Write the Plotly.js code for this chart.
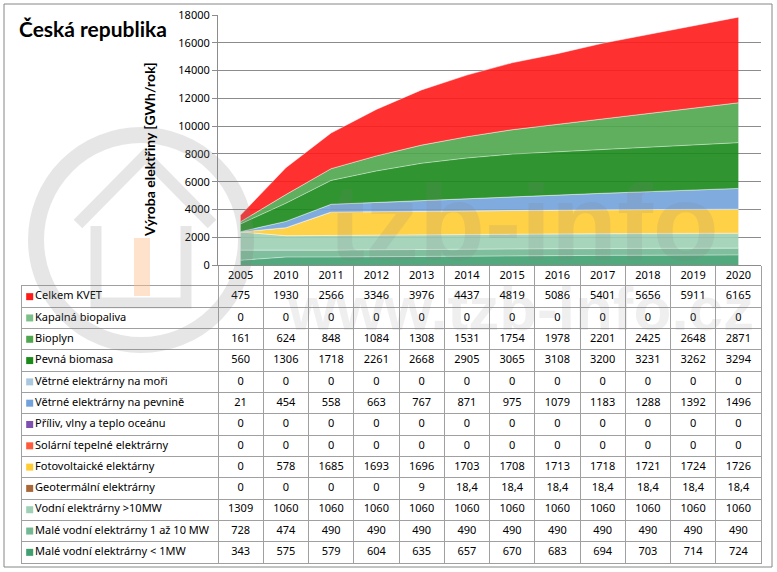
<!DOCTYPE html>
<html>
<head>
<meta charset="utf-8">
<script src="https://cdn.plot.ly/plotly-3.0.1.min.js"></script>
<style>html,body{margin:0;padding:0;background:#fff;}#chart{width:777px;height:572px;}</style>
</head>
<body>
<div id="chart"></div>
<script>
// ---- data ----
const years = ['2005','2010','2011','2012','2013','2014','2015','2016','2017','2018','2019','2020'];
const celkemKVET = [475,1930,2566,3346,3976,4437,4819,5086,5401,5656,5911,6165];
const kapalnaBiopaliva = [0,0,0,0,0,0,0,0,0,0,0,0];
const bioplyn = [161,624,848,1084,1308,1531,1754,1978,2201,2425,2648,2871];
const pevnaBiomasa = [560,1306,1718,2261,2668,2905,3065,3108,3200,3231,3262,3294];
const vetrneMore = [0,0,0,0,0,0,0,0,0,0,0,0];
const vetrnePevnina = [21,454,558,663,767,871,975,1079,1183,1288,1392,1496];
const priliv = [0,0,0,0,0,0,0,0,0,0,0,0];
const solarniTepelne = [0,0,0,0,0,0,0,0,0,0,0,0];
const fotovoltaicke = [0,578,1685,1693,1696,1703,1708,1713,1718,1721,1724,1726];
const geotermalni = [0,0,0,0,9,18.4,18.4,18.4,18.4,18.4,18.4,18.4];
const vodniNad10 = [1309,1060,1060,1060,1060,1060,1060,1060,1060,1060,1060,1060];
const maleVodni1az10 = [728,474,490,490,490,490,490,490,490,490,490,490];
const maleVodniPod1 = [343,575,579,604,635,657,670,683,694,703,714,724];

const seriesNames = ['Celkem KVET','Kapalná biopaliva','Bioplyn','Pevná biomasa','Větrné elektrárny na moři','Větrné elektrárny na pevnině','Příliv, vlny a teplo oceánu','Solární tepelné elektrárny','Fotovoltaické elektárny','Geotermální elektrárny','Vodní elektrárny >10MW','Malé vodní elektrárny 1 až 10 MW','Malé vodní elektrárny < 1MW'];
const seriesValues = [celkemKVET,kapalnaBiopaliva,bioplyn,pevnaBiomasa,vetrneMore,vetrnePevnina,priliv,solarniTepelne,fotovoltaicke,geotermalni,vodniNad10,maleVodni1az10,maleVodniPod1];
const seriesColors = ['#ff1a1a','#7dbf8a','#4ea64e','#1a8a1a','#a9c8de','#72a2dc','#8050b0','#ff5a3c','#ffcc33','#a8683a','#9dd0b5','#72b893','#40a070'];

const W = 777, H = 572;
const px = v => v / W, py = v => 1 - v / H;
const nCol = years.length;
const colIdx = years.map((_, i) => i);
const boundaries = [];
for (let i = 0; i <= nCol; i++) boundaries.push(i - 0.5);
const labelCols = (218 - 22) / ((761 - 218) / nCol);
const fmt = v => String(v).replace('.', ',');
const FONT = 'Noto Sans, DejaVu Sans, sans-serif';

function hexA(h, a) {
  const r = parseInt(h.slice(1,3),16), g = parseInt(h.slice(3,5),16), b = parseInt(h.slice(5,7),16);
  return `rgba(${r},${g},${b},${a})`;
}
const traces = [];
// stacked areas, bottom series first
for (let k = seriesNames.length - 1; k >= 0; k--) {
  const c = seriesColors[k];
  traces.push({
    type: 'scatter', mode: 'lines', x: colIdx, y: seriesValues[k], name: seriesNames[k],
    stackgroup: 'one', fillcolor: hexA(c, 0.9),
    line: {width: 0.8, color: 'rgba(255,255,255,0.55)'},
    hoverinfo: 'skip', xaxis: 'x', yaxis: 'y'
  });
}
// table values
const tx = [], ty = [], tt = [];
seriesValues.forEach((vals, r) => vals.forEach((v, i) => { tx.push(i); ty.push(r); tt.push(fmt(v)); }));
traces.push({
  type: 'scatter', mode: 'text', x: tx, y: ty, text: tt, textposition: 'middle center',
  textfont: {family: FONT, size: 11, color: '#000'}, xaxis: 'x2', yaxis: 'y2', hoverinfo: 'skip', cliponaxis: false
});
// table row labels with swatches
traces.push({
  type: 'scatter', mode: 'markers+text', x: seriesNames.map(() => -0.5 - labelCols + 0.17), y: seriesNames.map((_, r) => r),
  text: seriesNames, textposition: 'middle right',
  marker: {symbol: 'square', size: 7, color: seriesColors},
  textfont: {family: FONT, size: 11, color: '#000'}, xaxis: 'x2', yaxis: 'y2', hoverinfo: 'skip', cliponaxis: false
});

const gray = '#8c8c8c', tgray = '#a0a0a0';
const wm = 'rgba(128,128,128,0.2)';
const layout = {
  width: W, height: H, margin: {l: 0, r: 0, t: 0, b: 0},
  paper_bgcolor: '#fff', plot_bgcolor: 'rgba(0,0,0,0)', showlegend: false,
  font: {family: FONT, size: 11, color: '#000'},
  xaxis: {
    domain: [px(218), px(761)], range: [-0.5, nCol - 0.5], anchor: 'y',
    tickmode: 'array', tickvals: colIdx, ticktext: years, ticks: '',
    showline: true, linecolor: gray, showgrid: false, zeroline: false,
    tickfont: {family: FONT, size: 11}, fixedrange: true,
    minor: {tickmode: 'array', tickvals: boundaries, ticks: 'outside', ticklen: 21, tickcolor: tgray, tickwidth: 1, showgrid: false}
  },
  yaxis: {
    domain: [py(265), py(15)], range: [0, 18000], dtick: 2000, tickformat: 'd', anchor: 'x',
    showgrid: true, gridcolor: gray, ticks: 'outside', ticklen: 5, tickcolor: gray,
    showline: true, linecolor: gray, zeroline: false, tickfont: {family: FONT, size: 11}, fixedrange: true
  },
  xaxis2: {
    domain: [px(22), px(761)], range: [-0.5 - labelCols, nCol - 0.5], anchor: 'y2',
    tickmode: 'array', tickvals: boundaries.slice(0, nCol), showticklabels: false, ticks: '',
    showgrid: true, gridcolor: tgray, showline: true, mirror: true, linecolor: tgray, zeroline: false, fixedrange: true
  },
  yaxis2: {
    domain: [py(563), py(286)], range: [seriesNames.length - 0.5, -0.5], anchor: 'x2',
    tickmode: 'array', tickvals: seriesNames.slice(1).map((_, r) => r + 0.5), showticklabels: false, ticks: '',
    showgrid: true, gridcolor: tgray, showline: true, mirror: true, linecolor: tgray, zeroline: false, fixedrange: true
  },
  shapes: [
    {type: 'rect', xref: 'paper', yref: 'paper', x0: px(4), x1: px(772), y0: py(567), y1: py(4), line: {color: '#868686', width: 1}, fillcolor: 'rgba(0,0,0,0)'},
    // watermark
    {type: 'circle', xref: 'paper', yref: 'paper', x0: px(36), x1: px(246), y0: py(345), y1: py(135), line: {color: wm, width: 16}, layer: 'above'},
    {type: 'path', xref: 'paper', yref: 'paper', path: `M ${px(78)} ${py(224)} L ${px(145)} ${py(156)} L ${px(212)} ${py(224)}`, line: {color: wm, width: 12}, layer: 'above'},
    {type: 'path', xref: 'paper', yref: 'paper', path: `M ${px(96)} ${py(226)} L ${px(96)} ${py(303)} L ${px(186)} ${py(303)} L ${px(186)} ${py(226)}`, line: {color: wm, width: 11}, layer: 'above'},
    {type: 'rect', xref: 'paper', yref: 'paper', x0: px(134), x1: px(150), y0: py(296), y1: py(238), line: {width: 0}, fillcolor: 'rgba(252,190,140,0.45)', layer: 'above'}
  ],
  annotations: [
    {xref: 'paper', yref: 'paper', x: px(17), y: py(28), xanchor: 'left', yanchor: 'middle', showarrow: false,
     text: 'Česká republika', font: {family: 'Lato, Noto Sans, sans-serif', size: 21, color: '#000', weight: 'bold'}},
    {xref: 'paper', yref: 'paper', x: px(149), y: py(150), xanchor: 'center', yanchor: 'middle', showarrow: false, textangle: -90,
     text: 'Výroba elektřiny [GWh/rok]', font: {family: 'Lato, Noto Sans, sans-serif', size: 14, color: '#000', weight: 'bold'}},
    {xref: 'paper', yref: 'paper', x: px(524), y: py(222), xanchor: 'center', yanchor: 'middle', showarrow: false,
     text: 'tzb-info', font: {family: 'Liberation Sans, sans-serif', size: 108, color: 'rgba(128,128,128,0.15)', weight: 'bold'}},
    {xref: 'paper', yref: 'paper', x: px(520), y: py(308), xanchor: 'center', yanchor: 'middle', showarrow: false,
     text: 'www.tzb-info.cz', font: {family: 'Liberation Sans, sans-serif', size: 62, color: 'rgba(128,128,128,0.13)', weight: 'bold'}}
  ]
};
Plotly.newPlot('chart', traces, layout, {staticPlot: true});
</script>
</body>
</html>
